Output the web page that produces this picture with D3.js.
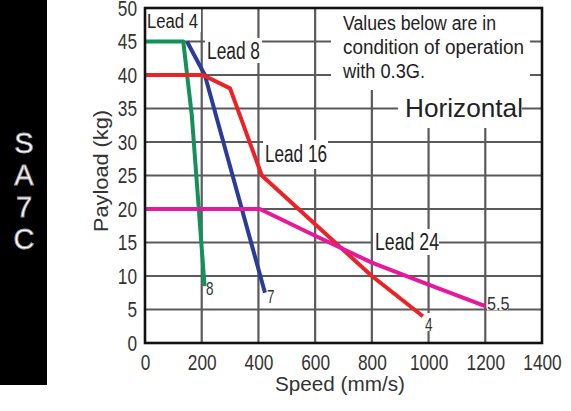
<!DOCTYPE html>
<html>
<head>
<meta charset="utf-8">
<script src="https://cdn.jsdelivr.net/npm/d3@7"></script>
<style>
  body { margin: 0; background: #fff; }
  text { font-family: "Liberation Sans", Arial, sans-serif; }
</style>
</head>
<body>
<div id="viz"></div>
<script>
var xTicks = [0, 200, 400, 600, 800, 1000, 1200, 1400];
var yTicks = [0, 5, 10, 15, 20, 25, 30, 35, 40, 45, 50];

var lead4  = [[0, 45], [135, 45], [165, 34], [210, 8.5]];
var lead8  = [[148, 45], [211, 40], [423, 7.5]];
var lead16 = [[0, 40], [204, 40], [300, 38], [412, 25], [800, 10], [980, 4]];
var lead24 = [[0, 20], [405, 20], [600, 16], [800, 12], [1000, 8.7], [1200, 5.5]];

var series = [
  {name: 'Lead 4', pts: lead4, color: '#14915a', end: '8'},
  {name: 'Lead 8', pts: lead8, color: '#2a3c98', end: '7'},
  {name: 'Lead 16', pts: lead16, color: '#ec2227', end: '4'},
  {name: 'Lead 24', pts: lead24, color: '#e6189b', end: '5.5'}
];

var w = 571, h = 411;

// squeeze text to look like a narrow face
function narrow(sel, per) {
  sel.attr('textLength', d => String(typeof d === 'object' ? d[0] : d).length * per)
     .attr('lengthAdjust', 'spacingAndGlyphs');
}

var svg = d3.select('#viz')
            .append('svg')
            .attr('width', w)
            .attr('height', h);

// side band
svg.append('rect')
   .attr('x', 0).attr('y', 0)
   .attr('width', 47).attr('height', 385)
   .attr('fill', '#000');

svg.selectAll('.band')
   .data(['S', 'A', '7', 'C'])
   .enter()
   .append('text')
     .attr('x', 24)
     .attr('y', (d, i) => 153 + i * 32)
     .attr('text-anchor', 'middle')
     .style('font-size', '29px')
     .style('fill', '#fff')
     .style('stroke', '#999')
     .style('stroke-width', 0.8)
     .text(d => d);

var x = d3.scaleLinear().domain([0, 1400]).range([145, 542]);
var y = d3.scaleLinear().domain([0, 50]).range([343, 8]);

// grid
svg.selectAll('.vg')
   .data(xTicks.slice(1, -1))
   .enter()
   .append('line')
     .attr('x1', d => x(d)).attr('x2', d => x(d))
     .attr('y1', y(50)).attr('y2', y(0))
     .attr('stroke', '#5a5a5a')
     .attr('stroke-width', 2.2);

svg.selectAll('.hg')
   .data(yTicks.slice(1, -1))
   .enter()
   .append('line')
     .attr('x1', x(0)).attr('x2', x(1400))
     .attr('y1', d => y(d)).attr('y2', d => y(d))
     .attr('stroke', '#5a5a5a')
     .attr('stroke-width', 2.2);

// white boxes over grid
var boxes = [[145, 9, 56, 23], [205, 38, 57, 25], [331, 9, 199, 81], [398, 90, 124, 38],
             [263, 140, 65, 29], [373, 229, 66, 26], [205, 278, 11, 18], [266, 284, 11, 19],
             [424, 313, 11, 18], [487, 293, 21, 17]];
svg.selectAll('.box')
   .data(boxes)
   .enter()
   .append('rect')
     .attr('x', d => d[0]).attr('y', d => d[1])
     .attr('width', d => d[2]).attr('height', d => d[3])
     .attr('fill', '#fff');

// curves
var line = d3.line()
             .x(d => x(d[0]))
             .y(d => y(d[1]));

svg.selectAll('.curve')
   .data(series)
   .enter()
   .append('path')
     .attr('d', d => line(d.pts))
     .attr('fill', 'none')
     .attr('stroke', d => d.color)
     .attr('stroke-width', 4)
     .attr('stroke-linejoin', 'round');

// frame
svg.append('rect')
   .attr('x', x(0)).attr('y', y(50))
   .attr('width', x(1400) - x(0)).attr('height', y(0) - y(50))
   .attr('fill', 'none')
   .attr('stroke', '#111')
   .attr('stroke-width', 2.6);

// axes
var xAxis = svg.append('g')
               .attr('transform', 'translate(0,' + y(0) + ')')
               .call(d3.axisBottom(x).tickValues(xTicks).tickFormat(d3.format('d')).tickSize(0).tickPadding(11));
var yAxis = svg.append('g')
               .attr('transform', 'translate(' + x(0) + ',0)')
               .call(d3.axisLeft(y).tickValues(yTicks).tickFormat(d3.format('d')).tickSize(0).tickPadding(8));
[xAxis, yAxis].forEach(function(a) {
  a.select('.domain').remove();
  a.selectAll('text')
   .style('font-family', '"Liberation Sans", Arial, sans-serif')
   .style('font-size', '22px')
   .style('fill', '#333')
   .call(narrow, 9.6);
});
yAxis.selectAll('text').attr('dy', '0.34em');

svg.append('text')
   .attr('x', 340).attr('y', 391)
   .attr('text-anchor', 'middle')
   .attr('textLength', 130)
   .attr('lengthAdjust', 'spacingAndGlyphs')
   .style('font-size', '20px')
   .style('fill', '#333')
   .text('Speed (mm/s)');

svg.append('text')
   .attr('transform', 'translate(108,171) rotate(-90)')
   .attr('text-anchor', 'middle')
   .attr('textLength', 122)
   .attr('lengthAdjust', 'spacingAndGlyphs')
   .style('font-size', '20px')
   .style('fill', '#333')
   .text('Payload (kg)');

// series labels
var labels = [['Lead 4', 147, 28, 20, 51], ['Lead 8', 207, 59, 23, 53], ['Lead 16', 265, 162, 23, 62], ['Lead 24', 375, 250, 23, 64]];
svg.selectAll('.lab')
   .data(labels)
   .enter()
   .append('text')
     .attr('x', d => d[1]).attr('y', d => d[2])
     .attr('textLength', d => d[4])
     .attr('lengthAdjust', 'spacingAndGlyphs')
     .style('font-size', d => d[3] + 'px')
     .style('fill', '#222')
     .text(d => d[0]);

var ends = [['8', 206, 295], ['7', 267, 303], ['4', 425, 331], ['5.5', 487, 310]];
svg.selectAll('.end')
   .data(ends)
   .enter()
   .append('text')
     .attr('x', d => d[1]).attr('y', d => d[2])
     .style('font-size', '19px')
     .style('fill', '#333')
     .call(narrow, 7.5)
     .text(d => d[0]);

// notes
svg.selectAll('.note')
   .data([['Values below are in', 153], ['condition of operation', 181], ['with 0.3G.', 82]])
   .enter()
   .append('text')
     .attr('x', 343)
     .attr('y', (d, i) => 30 + i * 24)
     .attr('textLength', d => d[1])
     .attr('lengthAdjust', 'spacingAndGlyphs')
     .style('font-size', '19.5px')
     .style('fill', '#222')
     .text(d => d[0]);

svg.append('text')
   .attr('x', 405).attr('y', 117)
   .attr('textLength', 118)
   .attr('lengthAdjust', 'spacingAndGlyphs')
   .style('font-size', '26px')
   .style('fill', '#222')
   .text('Horizontal');
</script>
</body>
</html>
